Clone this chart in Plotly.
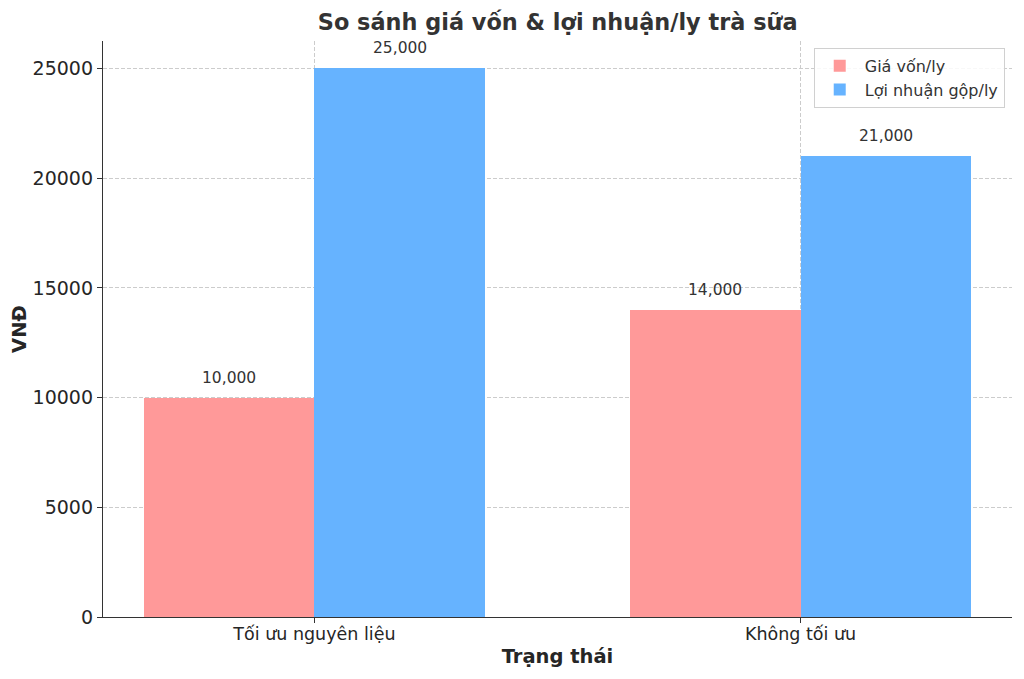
import plotly.graph_objects as go

categories = ["Tối ưu nguyên liệu", "Không tối ưu"]
cost_per_cup = [10000, 14000]
profit_per_cup = [25000, 21000]
series_names = ["Giá vốn/ly", "Lợi nhuận gộp/ly"]
y_ticks = [0, 5000, 10000, 15000, 20000, 25000]

FONT = "DejaVu Sans"
bar_w = 0.35
xpos = list(range(len(categories)))

fig = go.Figure()
fig.add_trace(go.Bar(x=xpos, y=cost_per_cup, name=series_names[0], width=bar_w,
                     offset=-bar_w, marker=dict(color="#ff9999", line=dict(width=0))))
fig.add_trace(go.Bar(x=xpos, y=profit_per_cup, name=series_names[1], width=bar_w,
                     offset=0, marker=dict(color="#66b3ff", line=dict(width=0))))

for xs, vals, sh in [(xpos, cost_per_cup, -bar_w / 2), (xpos, profit_per_cup, bar_w / 2)]:
    for x, v in zip(xs, vals):
        fig.add_annotation(x=x + sh, y=v, text=f"{v:,}", showarrow=False,
                           yanchor="bottom", yshift=9,
                           font=dict(family=FONT, size=15.5, color="#333333"))

# page has an 8px body margin; figure sized to fit viewport
fig.update_layout(
    width=1016, height=671,
    margin=dict(l=95, r=12, t=33, b=62),
    plot_bgcolor="white", paper_bgcolor="white",
    font=dict(family=FONT, color="#262626"),
    title=dict(text="<b>So sánh giá vốn & lợi nhuận/ly trà sữa</b>", x=0.541, xanchor="center",
               y=0.979, yanchor="middle", font=dict(family=FONT, size=22.4, color="#333333")),
    showlegend=True,
    legend=dict(x=0.992, y=0.988, xanchor="right", yanchor="top",
                bgcolor="rgba(255,255,255,0.85)", bordercolor="#d0d0d0", borderwidth=1,
                font=dict(family=FONT, size=16, color="#333333"),
                itemwidth=40, tracegroupgap=2),
    bargap=0,
)
fig.update_xaxes(
    range=[-0.435, 1.435], tickvals=xpos, ticktext=categories,
    showline=True, linecolor="#333333", linewidth=1.3,
    ticks="outside", ticklen=5, tickcolor="#333333",
    showgrid=True, gridcolor="#cccccc", griddash="4px,2px", gridwidth=0.8,
    tickfont=dict(family=FONT, size=17.5, color="#262626"),
    ticklabelstandoff=-4,
    title=dict(text="<b>Trạng thái</b>", font=dict(family=FONT, size=19.5, color="#262626"), standoff=6),
    zeroline=False, automargin=False,
)
fig.update_yaxes(
    range=[0, 26250], tickvals=y_ticks, tickformat="d",
    showline=True, linecolor="#333333", linewidth=1.3,
    ticks="outside", ticklen=5, tickcolor="#333333",
    showgrid=True, gridcolor="#cccccc", griddash="4px,2px", gridwidth=0.8,
    tickfont=dict(family=FONT, size=19, color="#262626"),
    title=dict(text="<b>VNĐ</b>", font=dict(family=FONT, size=19.5, color="#262626"), standoff=10),
    zeroline=False, automargin=False,
)

fig.write_html("out.html")
